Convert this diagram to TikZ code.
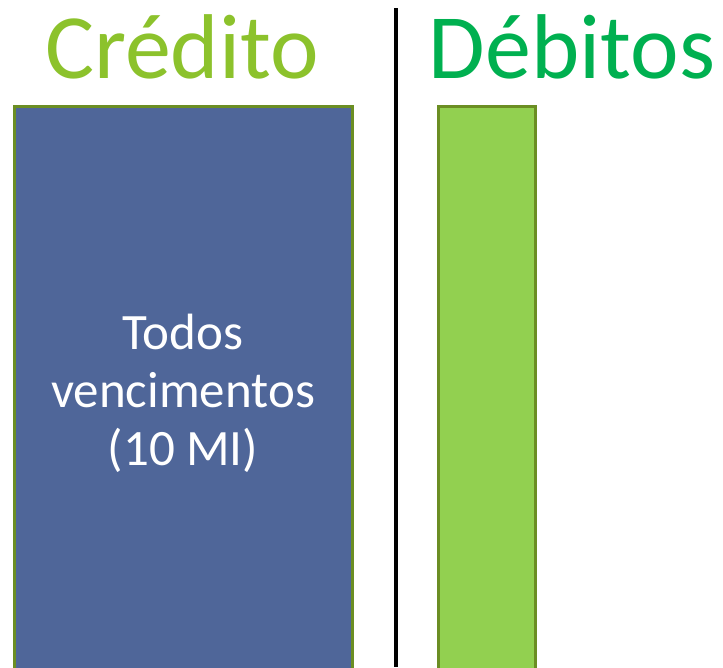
\documentclass[tikz,border=0pt]{standalone}
\usepackage{fontspec}
\setmainfont{Carlito}
\definecolor{titlelime}{HTML}{8CC22C}
\definecolor{titlegreen}{HTML}{00B050}
\definecolor{boxblue}{HTML}{4F6699}
\definecolor{boxlime}{HTML}{92D050}
\definecolor{boxedge}{HTML}{6B8E23}
\tikzset{
  title/.style={anchor=base, inner sep=0pt, font=\fontsize{92}{100}\selectfont},
  bar/.style={draw=boxedge, line width=3pt, rectangle, inner sep=0pt, minimum height=588pt},
}
\begin{document}
\begin{tikzpicture}[x=1pt, y=-1pt]
				\path[use as bounding box, clip] (0,0) rectangle (723,667);
				\node[title, text=titlelime] (credito)at(182, 78) {Crédito};
				\node[title, text=titlegreen] (debitos)at(572, 78) {Débitos};
				\node[bar, fill=boxblue, minimum width=338pt] (venc)at(183, 400) {};
				\node[text=white, align=center, inner sep=0pt,
				      font=\fontsize{51}{58}\selectfont] (venctext)at(183, 393) {Todos\\vencimentos\\(10 MI)};
				\node[bar, fill=boxlime, minimum width=97pt] (deb)at(486.5, 400) {};
				\coordinate (top)at(396, 8);
				\coordinate (bottom)at(396, 667);
				\draw[line width=4pt] (top) -- (bottom);
			\end{tikzpicture}
\end{document}
